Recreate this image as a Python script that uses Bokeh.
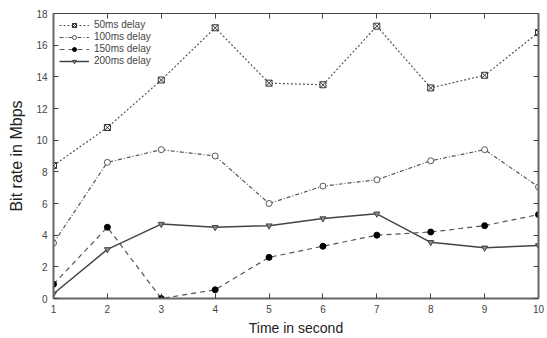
from bokeh.plotting import figure
from bokeh.models import Range1d, LinearAxis, FixedTicker, Legend, LegendItem
from bokeh.embed import file_html
from bokeh.resources import INLINE

time_s = [1, 2, 3, 4, 5, 6, 7, 8, 9, 10]
delay_50 = [8.4, 10.8, 13.8, 17.1, 13.6, 13.5, 17.2, 13.3, 14.1, 16.8]
delay_100 = [3.5, 8.6, 9.4, 9.0, 6.0, 7.1, 7.5, 8.7, 9.4, 7.05]
delay_150 = [0.9, 4.5, 0.0, 0.55, 2.6, 3.3, 4.0, 4.2, 4.6, 5.3]
delay_200 = [0.3, 3.1, 4.7, 4.5, 4.6, 5.05, 5.35, 3.55, 3.2, 3.35]
x_ticks = [1, 2, 3, 4, 5, 6, 7, 8, 9, 10]
y_ticks = [0, 2, 4, 6, 8, 10, 12, 14, 16, 18]

FONT = "Liberation Sans"
TXT = "#444444"
LINE = "#555555"

p = figure(width=547, height=338, output_backend="svg", toolbar_location=None,
           x_range=Range1d(1, 10), y_range=Range1d(0, 18),
           min_border_left=53, min_border_right=9, min_border_top=13, min_border_bottom=39)
p.xgrid.visible = False
p.ygrid.visible = False
p.outline_line_color = "#444444"
p.outline_line_width = 1
p.background_fill_color = "white"
p.border_fill_color = "white"

for ax, ticks in ((p.xaxis[0], x_ticks), (p.yaxis[0], y_ticks)):
    ax.ticker = FixedTicker(ticks=ticks)
    ax.major_tick_in = 5
    ax.major_tick_out = 0
    ax.minor_tick_line_color = None
    ax.axis_line_color = "#666666"
    ax.axis_line_width = 2
    ax.major_tick_line_color = "#444444"
    ax.major_label_text_font = FONT
    ax.major_label_text_font_size = "10px"
    ax.major_label_text_color = TXT
    ax.axis_label_text_font = FONT
    ax.axis_label_text_font_style = "normal"
    ax.axis_label_text_color = "#222222"

p.xaxis.axis_label = "Time in second"
p.yaxis.axis_label = "Bit rate in Mbps"
p.xaxis.axis_label_text_font_size = "14px"
p.yaxis.axis_label_text_font_size = "16px"
p.xaxis.major_label_standoff = 6
p.xaxis.axis_label_standoff = 4
p.yaxis.major_label_standoff = 6
p.yaxis.axis_label_standoff = 8

# mirrored ticks on top and right (no labels)
top = LinearAxis(ticker=FixedTicker(ticks=x_ticks), major_tick_in=5, major_tick_out=0,
                 minor_tick_line_color=None, major_label_text_font_size="1px",
                 major_label_text_color=None,
                 axis_line_color="#444444", major_tick_line_color="#444444",
                 major_label_standoff=0)
right = LinearAxis(ticker=FixedTicker(ticks=y_ticks), major_tick_in=5, major_tick_out=0,
                   minor_tick_line_color=None, major_label_text_font_size="1px",
                   major_label_text_color=None,
                   axis_line_color="#666666", axis_line_width=2,
                   major_tick_line_color="#444444", major_label_standoff=0)
p.add_layout(top, "above")
p.add_layout(right, "right")

l1 = p.line(time_s, delay_50, line_color=LINE, line_width=1.2, line_dash="2 2")
m1 = p.scatter(time_s, delay_50, marker="square_x", size=6, line_color="#333333",
               fill_color="white", line_width=1)
l2 = p.line(time_s, delay_100, line_color=LINE, line_width=1.2, line_dash="4 2 1 2")
m2 = p.scatter(time_s, delay_100, marker="circle", size=6, line_color="#555555",
               fill_color="white", line_width=1)
l3 = p.line(time_s, delay_150, line_color=LINE, line_width=1.2, line_dash="5 4")
m3 = p.scatter(time_s, delay_150, marker="circle", size=6, line_color="black",
               fill_color="black")
l4 = p.line(time_s, delay_200, line_color="#444444", line_width=1.5)
m4 = p.scatter(time_s, delay_200, marker="inverted_triangle", size=6,
               line_color="#444444", fill_color="#888888")

legend = Legend(items=[
    LegendItem(label="50ms delay", renderers=[l1, m1]),
    LegendItem(label="100ms delay", renderers=[l2, m2]),
    LegendItem(label="150ms delay", renderers=[l3, m3]),
    LegendItem(label="200ms delay", renderers=[l4, m4]),
], location="top_left")
legend.border_line_color = None
legend.background_fill_alpha = 0
legend.label_text_font = FONT
legend.label_text_font_size = "10px"
legend.label_text_color = TXT
legend.glyph_width = 30
legend.glyph_height = 10
legend.label_height = 10
legend.spacing = 1
legend.padding = 2
legend.margin = 6
legend.label_standoff = 5
p.add_layout(legend)

open("out.html", "w").write(file_html(p, INLINE))
